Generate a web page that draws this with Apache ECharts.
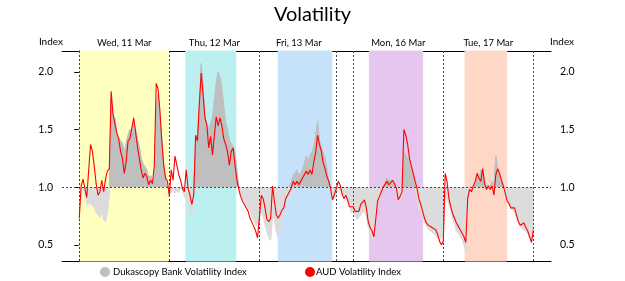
<!DOCTYPE html>
<html>
<head>
<meta charset="utf-8">
<script src="https://cdn.jsdelivr.net/npm/echarts@6/dist/echarts.min.js"></script>
<style>
    html, body { margin: 0; padding: 0; background: #fff; }
    #chart { width: 625px; height: 281px; }
</style>
</head>
<body>
<div id="chart"></div>
<script>
// hours shown on the axis, counted from Wed 00:00 (weekend squeezed out)
var START_HOUR = 0;
var STEP_HOURS = 0.5;

var AUD_INDEX = [
    0.73,1.01,1.07,0.99,0.91,0.92,1.37,1.31,1.18,1.03,
    0.93,0.96,1.06,0.96,1.07,1.14,1.16,1.83,1.63,1.63,
    1.47,1.42,1.31,1.25,1.12,1.22,1.40,1.42,1.42,1.60,
    1.48,1.35,1.25,1.15,1.08,1.12,1.09,1.02,1.06,1.03,
    1.19,1.90,1.85,1.66,1.40,1.19,1.08,1.05,0.92,1.15,
    1.06,1.27,1.19,1.11,1.06,0.99,0.96,1.15,0.99,0.93,
    0.85,0.93,1.45,1.40,1.73,1.99,1.80,1.60,1.54,1.34,
    1.44,1.28,1.45,1.61,1.53,1.60,1.53,1.42,1.37,1.31,
    1.19,1.31,1.34,1.19,1.06,0.98,0.92,0.88,0.85,0.86,
    0.79,0.73,0.72,0.66,0.62,0.56,0.74,0.93,0.90,0.82,
    0.72,0.70,0.73,1.01,0.88,0.76,0.73,0.76,0.80,0.82,
    0.90,0.93,0.93,0.99,1.05,1.02,1.05,1.02,1.05,1.08,
    1.11,1.14,1.11,1.15,1.11,1.22,1.30,1.45,1.37,1.31,
    1.21,1.16,1.09,1.05,0.98,0.89,0.88,0.99,1.05,1.02,
    0.95,0.90,0.93,0.89,0.83,0.82,0.83,0.79,0.80,0.79,
    0.85,0.86,0.89,0.82,0.70,0.65,0.62,0.57,0.72,0.88,
    0.92,0.96,1.00,1.01,1.05,1.02,1.03,1.06,1.03,0.99,
    0.89,0.92,0.96,1.50,1.45,1.37,1.25,1.18,1.12,1.05,
    0.99,0.90,0.85,0.79,0.73,0.69,0.67,0.67,0.65,0.65,
    0.63,0.59,0.53,0.50,0.53,1.12,1.05,0.90,0.83,0.77,
    0.73,0.69,0.66,0.63,0.62,0.57,0.52,0.90,0.98,0.96,
    1.01,1.05,1.12,1.08,1.05,1.16,1.03,0.98,1.01,0.98,
    1.01,0.93,1.11,1.16,1.12,1.06,1.01,0.95,0.88,0.86,
    0.82,0.82,0.82,0.76,0.70,0.67,0.67,0.69,0.65,0.62,
    0.57,0.52,0.63
];

var DUKASCOPY_INDEX = [
    0.79,0.95,0.99,0.93,0.85,0.85,0.86,0.85,0.82,0.78,
    0.76,0.74,0.78,0.72,0.70,0.78,0.95,1.77,1.62,1.60,
    1.45,1.45,1.40,1.38,1.30,1.38,1.45,1.50,1.45,1.55,
    1.50,1.42,1.35,1.25,1.20,1.20,1.15,1.08,1.10,1.05,
    1.10,1.70,1.80,1.60,1.40,1.20,1.05,1.00,0.97,0.95,
    1.00,0.95,0.97,0.95,1.00,0.97,0.92,0.90,0.88,0.82,
    0.76,0.76,1.30,1.45,1.70,2.07,1.85,1.60,1.55,1.50,
    1.55,1.60,1.75,1.90,2.00,1.95,1.85,1.70,1.55,1.50,
    1.40,1.40,1.35,1.30,1.15,1.00,0.95,0.90,0.88,0.85,
    0.82,0.80,0.75,0.72,0.68,0.66,0.70,0.80,0.75,0.68,
    0.62,0.56,0.54,0.75,0.72,0.62,0.57,0.62,0.75,0.80,
    0.88,0.95,1.00,1.05,1.10,1.12,1.15,1.10,1.12,1.15,
    1.20,1.27,1.22,1.28,1.30,1.35,1.45,1.57,1.40,1.35,
    1.30,1.25,1.15,1.05,1.00,0.97,0.90,0.95,1.00,0.97,
    0.93,0.95,0.92,0.88,0.84,0.78,0.80,0.76,0.72,0.74,
    0.75,0.78,0.80,0.75,0.66,0.62,0.57,0.54,0.70,0.85,
    0.90,0.95,1.00,1.05,1.08,1.06,1.05,1.05,1.00,0.97,
    0.90,0.88,0.95,1.30,1.30,1.25,1.20,1.20,1.10,1.00,
    0.92,0.82,0.78,0.74,0.70,0.66,0.64,0.62,0.62,0.60,
    0.58,0.56,0.54,0.55,0.58,0.95,0.90,0.85,0.80,0.72,
    0.68,0.62,0.60,0.58,0.55,0.50,0.45,0.80,0.95,0.93,
    0.98,1.02,1.10,1.05,1.15,1.12,1.05,1.00,1.02,1.00,
    1.05,1.00,1.27,1.15,1.10,1.02,0.98,0.92,0.88,0.85,
    0.82,0.80,0.78,0.74,0.70,0.66,0.64,0.65,0.62,0.60,
    0.57,0.55,0.58
];

var SERIES_NAMES = ['Dukascopy Bank Volatility Index', 'AUD Volatility Index'];

var DAY_LABELS = ['Wed, 11 Mar', 'Thu, 12 Mar', 'Fri, 13 Mar', 'Mon, 16 Mar', 'Tue, 17 Mar'];
var DAY_CENTERS = [12, 36, 58.5, 85, 109];
var DAY_BREAKS = [0, 24, 48, 68.5, 73, 97, 121];

// shaded sessions [from, to, colour]
var SESSIONS = [
    [0, 23.8, '#ffffc0'],
    [28.4, 41.7, '#bcefef'],
    [53, 67.3, '#c6e2fa'],
    [77.3, 91.5, '#e6c6ee'],
    [102.8, 113.9, '#ffd7c6']
];

var Y_TICKS = [0.5, 1.0, 1.5, 2.0];
var BASE_LEVEL = 1.0;

var X_MIN = -4.6, X_MAX = 125.7;
var Y_MIN = 0.36, Y_MAX = 2.18;

var GREY_UP = '#bfbfbf', GREY_DOWN = '#dcdcdc';

function toPairs(vals) {
    return vals.map(function (v, i) { return [START_HOUR + i * STEP_HOURS, v]; });
}

var FONT = 'Lato';

var chart = echarts.init(document.getElementById('chart'));

var yAxisBase = {
    type: 'value',
    min: Y_MIN,
    max: Y_MAX,
    axisLine: { show: true, lineStyle: { color: '#000', width: 1 } },
    axisTick: { show: true, length: 5, customValues: Y_TICKS, lineStyle: { color: '#000' } },
    axisLabel: {
        customValues: Y_TICKS,
        color: '#000', fontFamily: FONT, fontSize: 10.5, margin: 9,
        formatter: function (v) { return v.toFixed(1); }
    },
    splitLine: { show: false }
};

chart.setOption({
    animation: false,
    title: [
        {
            text: 'Volatility',
            left: 'center',
            top: 0,
            textStyle: { fontFamily: FONT, fontSize: 20, fontWeight: 'normal', color: '#000' }
        },
        {
            text: 'Index', right: 562, top: 37, padding: 0,
            textStyle: { fontFamily: FONT, fontSize: 10, fontWeight: 'normal', color: '#000' }
        },
        {
            text: 'Index', left: 550, top: 37, padding: 0,
            textStyle: { fontFamily: FONT, fontSize: 10, fontWeight: 'normal', color: '#000' }
        }
    ],
    legend: [
        {
            data: [SERIES_NAMES[0]],
            left: 95, top: 262,
            icon: 'circle', itemWidth: 10, itemHeight: 10,
            textStyle: { fontFamily: FONT, fontSize: 9.5, color: '#000', padding: [0, 0, 0, -2] }
        },
        {
            data: [SERIES_NAMES[1]],
            left: 300, top: 262,
            icon: 'circle', itemWidth: 10, itemHeight: 10,
            textStyle: { fontFamily: FONT, fontSize: 9.5, color: '#000', padding: [0, 0, 0, -4] }
        }
    ],
    grid: { left: 62, right: 74, top: 51, bottom: 20 },
    xAxis: [
        {
            type: 'value', min: X_MIN, max: X_MAX,
            axisLine: { show: true, onZero: false, lineStyle: { color: '#000' } },
            axisTick: { show: false },
            axisLabel: { show: false },
            splitLine: { show: false }
        },
        {
            type: 'value', min: X_MIN, max: X_MAX, position: 'top',
            axisLine: { show: true, onZero: false, lineStyle: { color: '#000' } },
            axisTick: { show: false },
            axisLabel: {
                customValues: DAY_CENTERS,
                color: '#000', fontFamily: FONT, fontSize: 9.5, margin: 3,
                formatter: function (v) { return DAY_LABELS[DAY_CENTERS.indexOf(v)]; }
            },
            splitLine: { show: false }
        }
    ],
    yAxis: [
        Object.assign({}, yAxisBase, { position: 'left' }),
        Object.assign({}, yAxisBase, { position: 'right' })
    ],
    series: [
        {
            name: SERIES_NAMES[0],
            type: 'line',
            data: toPairs(DUKASCOPY_INDEX),
            showSymbol: false,
            symbol: 'circle',
            z: 2,
            itemStyle: { color: GREY_UP },
            lineStyle: { width: 1, color: GREY_UP },
            areaStyle: { origin: BASE_LEVEL, opacity: 1, color: GREY_UP },
            markArea: {
                silent: true,
                z: 1,
                data: SESSIONS.map(function (s) {
                    return [
                        { xAxis: s[0], itemStyle: { color: s[2], borderColor: echarts.color.lift(s[2], 0.05), borderWidth: 1 } },
                        { xAxis: s[1] }
                    ];
                })
            }
        },
        {
            name: SERIES_NAMES[1],
            type: 'line',
            data: toPairs(AUD_INDEX),
            showSymbol: false,
            symbol: 'circle',
            z: 4,
            itemStyle: { color: '#ff0000' },
            lineStyle: { width: 1.1, color: '#ff0000' },
            markLine: {
                silent: true,
                symbol: 'none',
                z: 3,
                label: { show: false },
                lineStyle: { color: '#444', width: 1, type: [2, 2] },
                data: DAY_BREAKS.map(function (b) { return { xAxis: b }; })
                    .concat([{ yAxis: BASE_LEVEL }])
            }
        }
    ]
});

// split the grey fill colour at the 1.0 level
var yTop = chart.convertToPixel({ yAxisIndex: 0 }, Y_MAX);
var yBot = chart.convertToPixel({ yAxisIndex: 0 }, Y_MIN);
var yBase = chart.convertToPixel({ yAxisIndex: 0 }, BASE_LEVEL);
var off = (yBase - yTop) / (yBot - yTop);
function splitFill() {
    return new echarts.graphic.LinearGradient(0, yTop, 0, yBot, [
        { offset: 0, color: GREY_UP },
        { offset: off, color: GREY_UP },
        { offset: off, color: GREY_DOWN },
        { offset: 1, color: GREY_DOWN }
    ], true);
}
chart.setOption({
    series: [
        { name: SERIES_NAMES[0], areaStyle: { color: splitFill() }, lineStyle: { color: splitFill() } }
    ]
});
</script>
</body>
</html>
